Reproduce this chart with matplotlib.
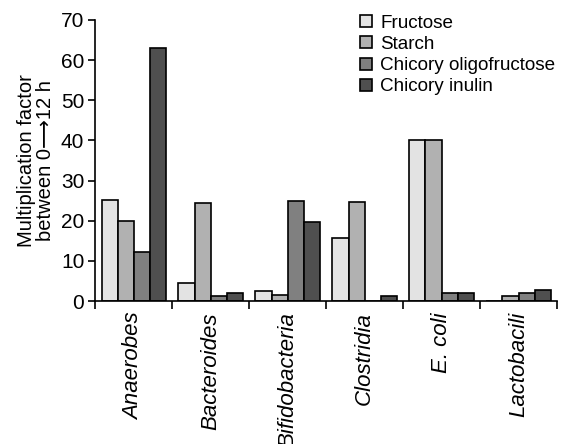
import matplotlib
matplotlib.use('Agg')
import matplotlib.pyplot as plt
import numpy as np

groups = ['Anaerobes', 'Bacteroides', 'Bifidobacteria', 'Clostridia', 'E. coli', 'Lactobacili']
series = ['Fructose', 'Starch', 'Chicory oligofructose', 'Chicory inulin']
fructose = [25.2, 4.5, 2.6, 15.8, 40.0, 0.0]
starch = [20.0, 24.5, 1.5, 24.7, 40.0, 1.2]
oligofructose = [12.2, 1.3, 24.9, 0.0, 2.0, 2.0]
inulin = [63.0, 1.9, 19.7, 1.3, 2.0, 2.7]
colors = ['#e3e3e3', '#b1b1b1', '#808080', '#4f4f4f']

plt.rcParams['font.family'] = ['Liberation Sans', 'DejaVu Sans']
plt.rcParams['font.size'] = 15

fig = plt.figure(figsize=(5.61, 4.44), dpi=100)
ax = fig.add_axes([0.17, 0.322, 0.823, 0.633])

x = np.arange(len(groups)) + 0.5
width = 0.21
for i, (name, vals) in enumerate(zip(series, [fructose, starch, oligofructose, inulin])):
    ax.bar(x + (i - 1.5) * width, vals, width, color=colors[i], edgecolor='black',
           linewidth=1.2, label=name)

ax.set_xlim(0, 6)
ax.set_ylim(0, 70)
ax.set_yticks(range(0, 71, 10))
ax.set_xticks(range(0, 7))
ax.set_xticklabels([])
ax.set_xticks(x, minor=True)
ax.set_xticklabels(groups, minor=True, rotation=90, style='italic', va='top', ha='center',
                   fontsize=16)
ax.tick_params(axis='x', which='minor', length=0, pad=8)
ax.tick_params(axis='x', which='major', length=6, width=1.2, direction='out')
ax.tick_params(axis='y', length=5, width=1.2, direction='out', pad=3)
for s in ['top', 'right']:
    ax.spines[s].set_visible(False)
for s in ['left', 'bottom']:
    ax.spines[s].set_linewidth(1.2)

ax.set_ylabel('Multiplication factor\nbetween 0\u27f612 h', linespacing=1.0, fontsize=14.5,
              labelpad=4)

ax.legend(loc='upper right', bbox_to_anchor=(1.025, 1.065), frameon=False, fontsize=13.6,
          handlelength=0.6, handleheight=0.6, handletextpad=0.45, labelspacing=0.22,
          borderpad=0.2)

fig.savefig('out.png', dpi=100)
